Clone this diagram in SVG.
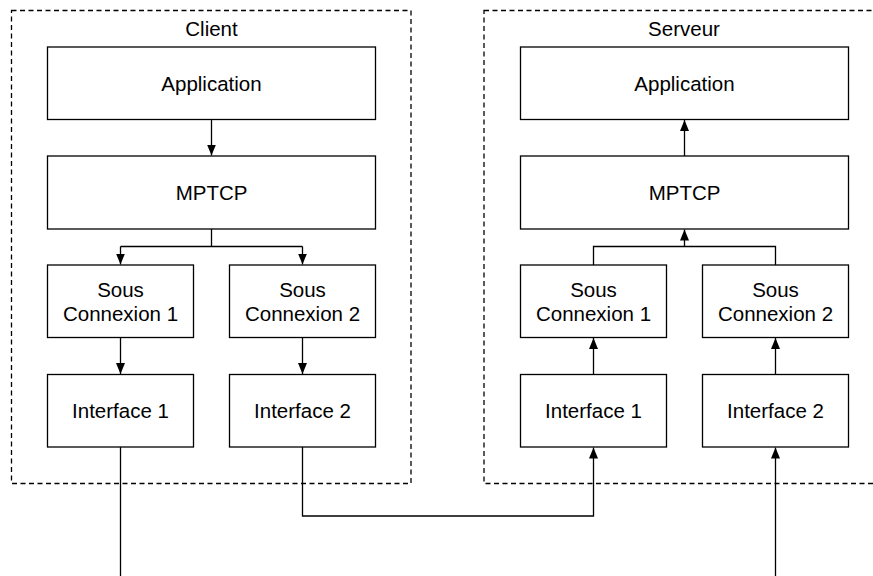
<svg xmlns="http://www.w3.org/2000/svg" width="873" height="576" viewBox="0 0 873 576">
  <style>
    .frame { fill: none; stroke: #000; stroke-width: 1.3; stroke-dasharray: 5 3.5; }
    .box { fill: #fff; stroke: #000; stroke-width: 1.3; }
    .lbl { font-family: "Liberation Sans", Arial, Helvetica, sans-serif; font-size: 20.5px; fill: #000; text-anchor: middle; }
    .wire { fill: none; stroke: #000; stroke-width: 1.3; }
    .arr { marker-end: url(#head); }
  </style>
  <defs>
    <marker id="head" markerUnits="userSpaceOnUse" markerWidth="11" markerHeight="9" refX="11" refY="4.5" orient="auto">
      <path d="M0,0 L11,4.5 L0,9 Z" fill="#000"/>
    </marker>
  </defs>
  <rect width="873" height="576" fill="#fff"/>

  <!-- Client container -->
  <g id="client">
    <rect class="frame" x="11.5" y="10.5" width="399.5" height="473"/>
    <text class="lbl" x="211.5" y="36">Client</text>
  </g>
  <!-- Server container (runs past the right edge) -->
  <g id="serveur">
    <rect class="frame" x="484" y="10.5" width="400" height="473"/>
    <text class="lbl" x="684" y="36">Serveur</text>
  </g>

  <!-- Client stack -->
  <g id="c-app">
    <rect class="box" x="47.5" y="47" width="328" height="72.5"/>
    <text class="lbl" x="211.5" y="91">Application</text>
  </g>
  <g id="c-mptcp">
    <rect class="box" x="47.5" y="156" width="328" height="73"/>
    <text class="lbl" x="211.5" y="200">MPTCP</text>
  </g>
  <g id="c-sc1">
    <rect class="box" x="47.5" y="265" width="146" height="72.5"/>
    <text class="lbl" x="120.5" y="297">Sous</text>
    <text class="lbl" x="120.5" y="321">Connexion 1</text>
  </g>
  <g id="c-sc2">
    <rect class="box" x="229.5" y="265" width="146" height="72.5"/>
    <text class="lbl" x="302.5" y="297">Sous</text>
    <text class="lbl" x="302.5" y="321">Connexion 2</text>
  </g>
  <g id="c-if1">
    <rect class="box" x="47.5" y="374.5" width="146" height="72.5"/>
    <text class="lbl" x="120.5" y="418">Interface 1</text>
  </g>
  <g id="c-if2">
    <rect class="box" x="229.5" y="374.5" width="146" height="72.5"/>
    <text class="lbl" x="302.5" y="418">Interface 2</text>
  </g>

  <!-- Server stack -->
  <g id="s-app">
    <rect class="box" x="520.5" y="47" width="328" height="72.5"/>
    <text class="lbl" x="684.5" y="91">Application</text>
  </g>
  <g id="s-mptcp">
    <rect class="box" x="520.5" y="156" width="328" height="73"/>
    <text class="lbl" x="684.5" y="200">MPTCP</text>
  </g>
  <g id="s-sc1">
    <rect class="box" x="520.5" y="265" width="146" height="72.5"/>
    <text class="lbl" x="593.5" y="297">Sous</text>
    <text class="lbl" x="593.5" y="321">Connexion 1</text>
  </g>
  <g id="s-sc2">
    <rect class="box" x="702.5" y="265" width="146" height="72.5"/>
    <text class="lbl" x="775.5" y="297">Sous</text>
    <text class="lbl" x="775.5" y="321">Connexion 2</text>
  </g>
  <g id="s-if1">
    <rect class="box" x="520.5" y="374.5" width="146" height="72.5"/>
    <text class="lbl" x="593.5" y="418">Interface 1</text>
  </g>
  <g id="s-if2">
    <rect class="box" x="702.5" y="374.5" width="146" height="72.5"/>
    <text class="lbl" x="775.5" y="418">Interface 2</text>
  </g>

  <!-- Connectors -->
  <g id="connectors">
    <!-- client: downward flow -->
    <path class="wire arr" d="M211.5,119.5 V155.5"/>
    <path class="wire" d="M211.5,229 V246.5 M120.5,246.5 H302.5"/>
    <path class="wire arr" d="M120.5,246.5 V264.5"/>
    <path class="wire arr" d="M302.5,246.5 V264.5"/>
    <path class="wire arr" d="M120.5,337.5 V374"/>
    <path class="wire arr" d="M302.5,337.5 V374"/>
    <path class="wire" d="M120.5,447 V576"/>
    <!-- link from client interface 2 to server interface 1 -->
    <path class="wire arr" d="M302.5,447 V516 H593.5 V447.5"/>
    <!-- server: upward flow -->
    <path class="wire arr" d="M775.5,576 V447.5"/>
    <path class="wire arr" d="M593.5,374.5 V338"/>
    <path class="wire arr" d="M775.5,374.5 V338"/>
    <path class="wire" d="M593.5,265 V246.5 H775.5 V265"/>
    <path class="wire arr" d="M684.5,246.5 V229.5"/>
    <path class="wire arr" d="M684.5,156 V120"/>
  </g>
</svg>
